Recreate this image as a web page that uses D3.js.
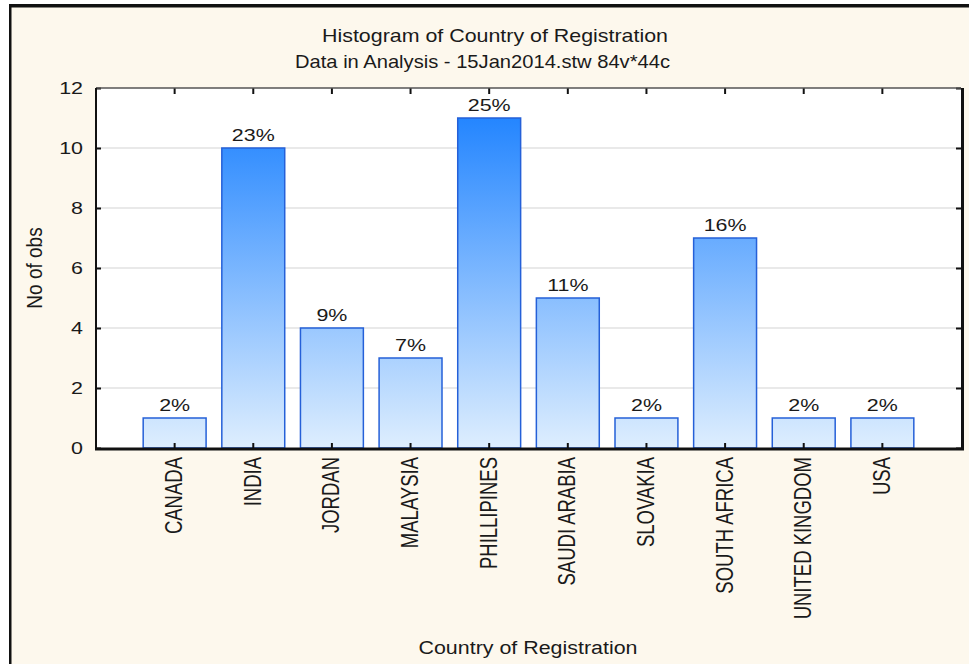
<!DOCTYPE html>
<html>
<head>
<meta charset="utf-8">
<script src="https://cdn.jsdelivr.net/npm/d3@7"></script>
<style>
  body { margin: 0; background: #fff; }
  svg { display: block; font-family: "Liberation Sans", Arial, sans-serif; }
</style>
</head>
<body>
<svg id="chart"></svg>
<script>
const countries = ['CANADA', 'INDIA', 'JORDAN', 'MALAYSIA', 'PHILLIPINES', 'SAUDI ARABIA', 'SLOVAKIA', 'SOUTH AFRICA', 'UNITED KINGDOM', 'USA'];
const counts = [1, 10, 4, 3, 11, 5, 1, 7, 1, 1];
const percents = ['2%', '23%', '9%', '7%', '25%', '11%', '2%', '16%', '2%', '2%'];
const yTicks = [0, 2, 4, 6, 8, 10, 12];

const W = 969, H = 664;
const margin = {top: 88, bottom: 216, left: 96, right: 8};
const width = W - margin.left - margin.right;
const height = H - margin.top - margin.bottom;

const root = d3.select('#chart')
.attr('width', W)
.attr('height', H);

// cream panel with the black frame on top and left
root.append('rect')
.attr('x', 9).attr('y', 4)
.attr('width', W - 9).attr('height', H - 4)
.attr('fill', '#fdf8ed');
root.append('rect').attr('x', 9).attr('y', 4).attr('width', W - 9).attr('height', 3.5).attr('fill', '#111');
root.append('rect').attr('x', 9).attr('y', 4).attr('width', 2.5).attr('height', H - 4).attr('fill', '#111');

const defs = root.append('defs');
const grad = defs.append('linearGradient')
.attr('id', 'barGrad')
.attr('gradientUnits', 'userSpaceOnUse')
.attr('x1', 0).attr('x2', 0)
.attr('y1', height).attr('y2', 0);
grad.append('stop').attr('offset', '0%').attr('stop-color', '#deeefe');
grad.append('stop').attr('offset', '100%').attr('stop-color', '#137cff');

const svg = root.append('g')
.attr('transform', `translate(${margin.left}, ${margin.top})`);

const x = d3.scaleBand()
.domain(countries)
.range([0, width])
.paddingInner(0.2)
.paddingOuter(0.6);

const y = d3.scaleLinear()
.domain([0, 12])
.range([height, 0]);

svg.append('rect')
.attr('width', width).attr('height', height)
.attr('fill', '#fff');

// grid
svg.selectAll('.grid')
.data(yTicks.filter(d => d > 0 && d < 12))
.enter()
.append('line')
.attr('x1', 0).attr('x2', width)
.attr('y1', d => y(d)).attr('y2', d => y(d))
.attr('stroke', '#e2e2e2').attr('stroke-width', 1.5);

const data = countries.map((c, i) => ({name: c, value: counts[i], pct: percents[i]}));

svg.selectAll('.bar')
.data(data)
.enter()
.append('rect')
.attr('x', d => x(d.name))
.attr('y', d => y(d.value))
.attr('width', x.bandwidth())
.attr('height', d => height - y(d.value))
.attr('fill', 'url(#barGrad)')
.attr('stroke', '#2560d8')
.attr('stroke-width', 1.5);

// percent labels, stretched sideways like the original
svg.selectAll('.pct')
.data(data)
.enter()
.append('text')
.attr('transform', d => `translate(${x(d.name) + x.bandwidth() / 2}, ${y(d.value) - 7}) scale(1.3,1)`)
.attr('text-anchor', 'middle')
.style('font-size', '16.5px')
.style('fill', '#1a1a1a')
.text(d => d.pct);

// axes with inward ticks
const yAxisL = svg.append('g').call(d3.axisRight(y).tickValues(yTicks).tickSize(5).tickFormat(''));
const yAxisR = svg.append('g').attr('transform', `translate(${width}, 0)`)
.call(d3.axisLeft(y).tickValues(yTicks).tickSize(5).tickFormat(''));
const xAxisB = svg.append('g').attr('transform', `translate(0, ${height})`)
.call(d3.axisTop(x).tickSize(5).tickFormat(''));
const xAxisT = svg.append('g')
.call(d3.axisBottom(x).tickSize(6).tickFormat(''));
[yAxisL, yAxisR, xAxisB, xAxisT].forEach(a => {
  a.select('.domain').remove();
  a.selectAll('line').attr('stroke', '#111').attr('stroke-width', 2);
});

// frame
svg.append('line').attr('x1', 0).attr('x2', width).attr('y1', 0).attr('y2', 0)
.attr('stroke', '#555').attr('stroke-width', 1.5);
svg.append('line').attr('x1', 0).attr('x2', 0).attr('y1', 0).attr('y2', height + 1)
.attr('stroke', '#111').attr('stroke-width', 2);
svg.append('line').attr('x1', -1).attr('x2', width + 3).attr('y1', height + 1).attr('y2', height + 1)
.attr('stroke', '#111').attr('stroke-width', 3);
svg.append('line').attr('x1', width + 1.5).attr('x2', width + 1.5).attr('y1', 0).attr('y2', height + 1)
.attr('stroke', '#111').attr('stroke-width', 3);

// y tick labels
svg.selectAll('.ytl')
.data(yTicks)
.enter()
.append('text')
.attr('transform', d => `translate(-13, ${y(d)}) scale(1.3,1)`)
.attr('dy', '0.36em')
.attr('text-anchor', 'end')
.style('font-size', '16.5px')
.style('fill', '#1a1a1a')
.text(d => d);

// x category labels, vertical
svg.selectAll('.xtl')
.data(countries)
.enter()
.append('text')
.attr('transform', d => `translate(${x(d) + x.bandwidth() / 2 + 7.5}, ${height + 9}) scale(1.32,1) rotate(-90)`)
.attr('text-anchor', 'end')
.style('font-size', '18.5px')
.style('fill', '#1a1a1a')
.text(d => d);

svg.append('text')
.attr('transform', `translate(-54, ${height / 2}) scale(1.15,1) rotate(-90)`)
.attr('text-anchor', 'middle')
.style('font-size', '19px')
.style('fill', '#1a1a1a')
.text('No of obs');

svg.append('text')
.attr('x', width / 2 - 110)
.attr('y', H - margin.top - 10)
.attr('textLength', 219)
.attr('lengthAdjust', 'spacingAndGlyphs')
.style('font-size', '18px')
.style('fill', '#1a1a1a')
.text('Country of Registration');

// titles
root.append('text')
.attr('x', 322).attr('y', 42)
.attr('textLength', 346)
.attr('lengthAdjust', 'spacingAndGlyphs')
.style('font-size', '19px')
.style('fill', '#1a1a1a')
.text('Histogram of Country of Registration');

root.append('text')
.attr('x', 295).attr('y', 68)
.attr('textLength', 375)
.attr('lengthAdjust', 'spacingAndGlyphs')
.style('font-size', '18.5px')
.style('fill', '#1a1a1a')
.text('Data in Analysis - 15Jan2014.stw 84v*44c');
</script>
</body>
</html>
